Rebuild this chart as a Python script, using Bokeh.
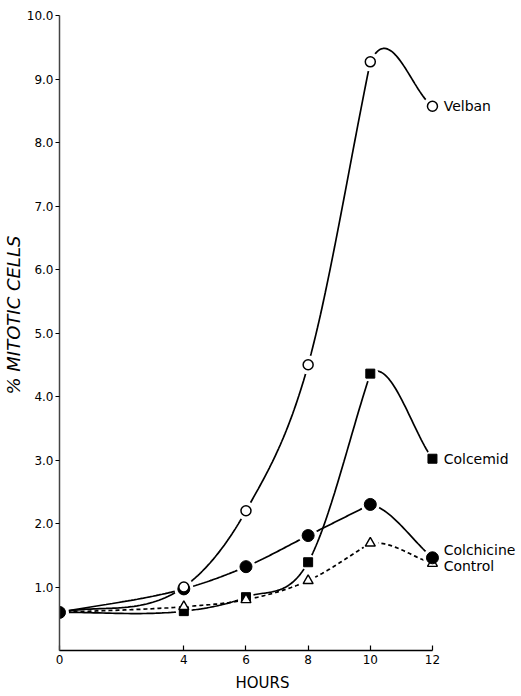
import numpy as np
from bokeh.plotting import figure
from bokeh.models import Label, FixedTicker, Title
from bokeh.embed import file_html
from bokeh.resources import INLINE

# ---- data ----
hours = [0, 4, 6, 8, 10, 12]
velban = [0.60, 1.00, 2.20, 4.50, 9.27, 8.57]
colcemid = [0.60, 0.62, 0.84, 1.39, 4.36, 3.02]
colchicine = [0.60, 0.97, 1.32, 1.81, 2.30, 1.46]
control = [0.60, 0.69, 0.80, 1.10, 1.69, 1.37]

x_ticks = [0, 4, 6, 8, 10, 12]
y_ticks = [1, 2, 3, 4, 5, 6, 7, 8, 9, 10]
y_tick_labels = ["1.0", "2.0", "3.0", "4.0", "5.0", "6.0", "7.0", "8.0", "9.0", "10.0"]
series_names = ["Velban", "Colcemid", "Colchicine", "Control"]
x_title = "HOURS"
y_title = "% MITOTIC  CELLS"

FONT = "DejaVu Sans"


def smooth(xs, ys, n=40):
    """Hand-drawn-like cubic Hermite curve through the data points.
    Smooth at ordinary points; at a peak the incoming segment follows its
    own chord (the joint is hidden under the marker)."""
    xs = np.asarray(xs, float)
    ys = np.asarray(ys, float)
    k = len(xs)
    s = np.diff(ys) / np.diff(xs)
    m_in = np.zeros(k)
    m_out = np.zeros(k)
    m_in[0] = m_out[0] = s[0]
    m_in[-1] = m_out[-1] = s[-1]
    for i in range(1, k - 1):
        avg = 0.5 * (s[i - 1] + s[i])
        m_in[i] = m_out[i] = avg
        if s[i - 1] > 0 and s[i] < 0:
            m_in[i] = s[i - 1]
    ox, oy = [], []
    for i in range(k - 1):
        h = xs[i + 1] - xs[i]
        t = np.linspace(0, 1, n, endpoint=(i == k - 2))
        h00 = 2 * t**3 - 3 * t**2 + 1
        h10 = t**3 - 2 * t**2 + t
        h01 = -2 * t**3 + 3 * t**2
        h11 = t**3 - t**2
        ox.extend(xs[i] + t * h)
        oy.extend(h00 * ys[i] + h10 * h * m_out[i] + h01 * ys[i + 1] + h11 * h * m_in[i + 1])
    return ox, oy


W, H = 521, 696
BL, BR, BT, BB = 59, 0, 15, 46
px_per_hour = 31.08
x1 = (W - BL - BR) / px_per_hour

p = figure(width=W, height=H, x_range=(0, x1), y_range=(0, 10),
           output_backend="svg", toolbar_location=None,
           min_border_left=BL, min_border_right=BR,
           min_border_top=BT, min_border_bottom=BB)
p.outline_line_color = None
p.grid.visible = False
p.background_fill_color = "white"

# axes
xa = p.xaxis[0]
xa.ticker = FixedTicker(ticks=x_ticks)
xa.bounds = (0, 12)
xa.major_tick_in = 5
xa.major_tick_out = 0
xa.minor_tick_line_color = None
xa.major_label_text_font = FONT
xa.major_label_text_font_size = "12px"
xa.major_label_text_color = "black"
xa.major_label_standoff = 4
xa.axis_line_width = 1.5
xa.major_tick_line_width = 1.2
xa.axis_line_color = "black"

ya = p.yaxis[0]
ya.ticker = FixedTicker(ticks=y_ticks)
ya.major_label_overrides = {t: l for t, l in zip(y_ticks, y_tick_labels)}
ya.bounds = (0, 10)
ya.major_tick_in = 0
ya.major_tick_out = 4
ya.minor_tick_line_color = None
ya.major_label_text_font = FONT
ya.major_label_text_font_size = "12px"
ya.major_label_text_color = "black"
ya.major_label_standoff = 2
ya.axis_line_width = 1.5
ya.major_tick_line_width = 1.2
ya.axis_line_color = "#444444"

# axis titles (as side titles, so they can be offset along the axis)
p.add_layout(Title(text=x_title, align="left", offset=176, standoff=10,
                   text_font=FONT, text_font_size="15px",
                   text_font_style="normal", text_color="black"), "below")
p.add_layout(Title(text=y_title, align="left", offset=256, standoff=0,
                   text_font=FONT, text_font_size="18px",
                   text_font_style="italic", text_color="black"), "left")

# curves
for ys, dash in [(velban, "solid"), (colcemid, "solid"), (colchicine, "solid"), (control, "4 3")]:
    cx, cy = smooth(hours, ys)
    p.line(cx, cy, line_color="black", line_width=1.7, line_dash=dash)

# white halos to break lines around markers
for ys, start, sz in [(colcemid, 1, 16), (control, 1, 16), (colchicine, 0, 19), (velban, 1, 19)]:
    p.scatter(hours[start:], ys[start:], marker="circle", size=sz,
              fill_color="white", line_color=None)

# markers
p.scatter(hours[1:], colcemid[1:], marker="square", size=9,
          fill_color="black", line_color="black", line_width=1)
p.scatter(hours[1:], control[1:], marker="triangle", size=10,
          fill_color="white", line_color="black", line_width=1.4)
p.scatter(hours, colchicine, marker="circle", size=12,
          fill_color="black", line_color="black")
p.scatter(hours[1:], velban[1:], marker="circle", size=10,
          fill_color="white", line_color="black", line_width=1.5)

# series labels at the end of each curve
label_y = [velban[-1], colcemid[-1], colchicine[-1] + 0.13, control[-1] - 0.04]
for name, ly in zip(series_names, label_y):
    p.add_layout(Label(x=hours[-1] + 0.36, y=ly, text=name, text_font=FONT,
                       text_font_size="14px", text_baseline="middle",
                       text_align="left", text_color="black"))

open("out.html", "w").write(file_html(p, INLINE))
